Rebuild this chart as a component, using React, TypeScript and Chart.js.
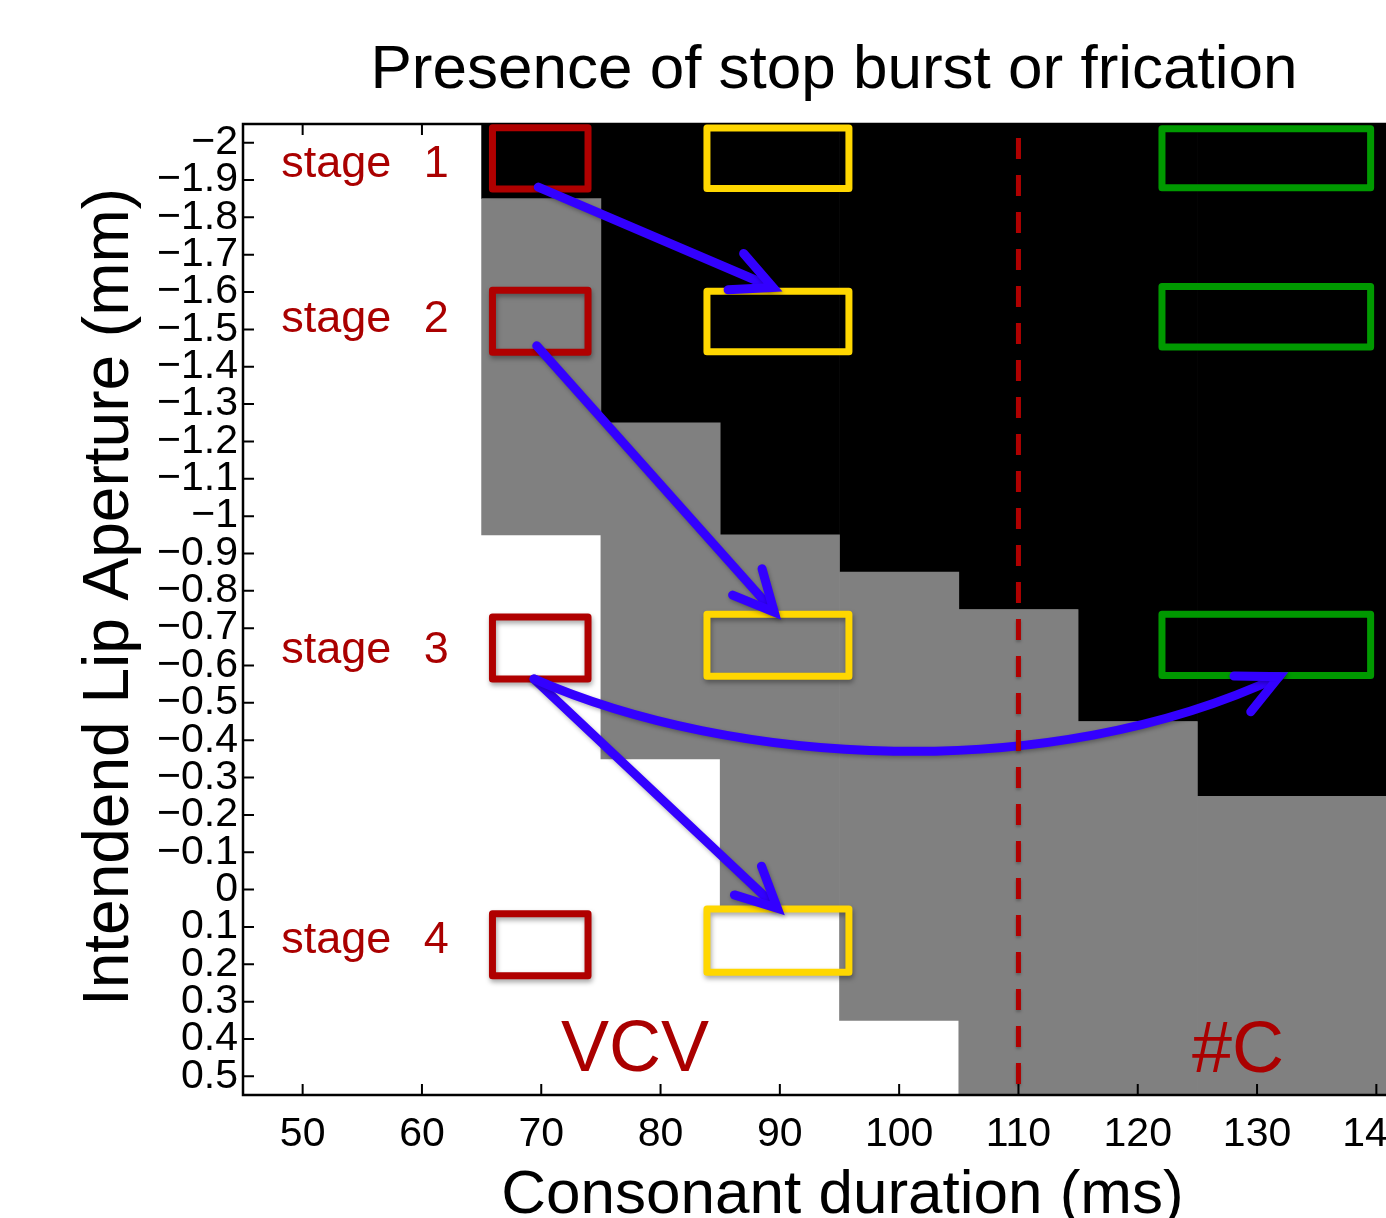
import React, { useEffect, useRef } from "react";
import { Chart, registerables } from "chart.js";

Chart.register(...registerables);

// ---------- data ----------
const xValues = [50, 60, 70, 80, 90, 100, 110, 120, 130, 140];
const yValues = [
  -2, -1.9, -1.8, -1.7, -1.6, -1.5, -1.4, -1.3, -1.2, -1.1, -1, -0.9, -0.8,
  -0.7, -0.6, -0.5, -0.4, -0.3, -0.2, -0.1, 0, 0.1, 0.2, 0.3, 0.4, 0.5,
];
const xTicks = [50, 60, 70, 80, 90, 100, 110, 120, 130, 140];
const yTicks = [
  -2, -1.9, -1.8, -1.7, -1.6, -1.5, -1.4, -1.3, -1.2, -1.1, -1, -0.9, -0.8,
  -0.7, -0.6, -0.5, -0.4, -0.3, -0.2, -0.1, 0, 0.1, 0.2, 0.3, 0.4, 0.5,
];
// 0 = absent (white), 1 = gray, 2 = black; one row per yValue, one column per xValue
const presence: number[][] = [
  [0, 0, 2, 2, 2, 2, 2, 2, 2, 2], // -2
  [0, 0, 2, 2, 2, 2, 2, 2, 2, 2], // -1.9
  [0, 0, 1, 2, 2, 2, 2, 2, 2, 2], // -1.8
  [0, 0, 1, 2, 2, 2, 2, 2, 2, 2], // -1.7
  [0, 0, 1, 2, 2, 2, 2, 2, 2, 2], // -1.6
  [0, 0, 1, 2, 2, 2, 2, 2, 2, 2], // -1.5
  [0, 0, 1, 2, 2, 2, 2, 2, 2, 2], // -1.4
  [0, 0, 1, 2, 2, 2, 2, 2, 2, 2], // -1.3
  [0, 0, 1, 1, 2, 2, 2, 2, 2, 2], // -1.2
  [0, 0, 1, 1, 2, 2, 2, 2, 2, 2], // -1.1
  [0, 0, 1, 1, 2, 2, 2, 2, 2, 2], // -1
  [0, 0, 0, 1, 1, 2, 2, 2, 2, 2], // -0.9
  [0, 0, 0, 1, 1, 1, 2, 2, 2, 2], // -0.8
  [0, 0, 0, 1, 1, 1, 1, 2, 2, 2], // -0.7
  [0, 0, 0, 1, 1, 1, 1, 2, 2, 2], // -0.6
  [0, 0, 0, 1, 1, 1, 1, 2, 2, 2], // -0.5
  [0, 0, 0, 1, 1, 1, 1, 1, 2, 2], // -0.4
  [0, 0, 0, 0, 1, 1, 1, 1, 2, 2], // -0.3
  [0, 0, 0, 0, 1, 1, 1, 1, 1, 1], // -0.2
  [0, 0, 0, 0, 1, 1, 1, 1, 1, 1], // -0.1
  [0, 0, 0, 0, 1, 1, 1, 1, 1, 1], // 0
  [0, 0, 0, 0, 0, 1, 1, 1, 1, 1], // 0.1
  [0, 0, 0, 0, 0, 1, 1, 1, 1, 1], // 0.2
  [0, 0, 0, 0, 0, 1, 1, 1, 1, 1], // 0.3
  [0, 0, 0, 0, 0, 0, 1, 1, 1, 1], // 0.4
  [0, 0, 0, 0, 0, 0, 1, 1, 1, 1], // 0.5
];

// ---------- annotations (data units) ----------
const stageLabels = ["stage 1", "stage 2", "stage 3", "stage 4"];
const stageLabelX = 48.2;
const stageLabelY = [-1.909, -1.494, -0.608, 0.171];
const redBoxX = [65.91, 73.92];
const redBoxY = [[-2.04, -1.876], [-1.605, -1.439], [-0.73, -0.564], [0.065, 0.231]];
const yellowBoxX = [83.89, 95.79];
const yellowBoxY = [[-2.039, -1.877], [-1.602, -1.44], [-0.737, -0.571], [0.052, 0.221]];
const greenBoxX = [122.03, 139.52];
const greenBoxY = [[-2.037, -1.879], [-1.615, -1.453], [-0.737, -0.573]];
const straightArrows = [
  { from: [69.75, -1.881], to: [89.43, -1.612] },
  { from: [69.62, -1.456], to: [89.53, -0.743] },
  { from: [69.39, -0.564], to: [89.79, 0.05] },
];
const curvedArrow = { from: [69.39, -0.564], c1: [86.0, -0.33], c2: [112.5, -0.28], to: [131.84, -0.57] };
const boundaryX = 110;
const regionLabels = [
  { text: "VCV", x: 77.86, y: 0.487 },
  { text: "#C", x: 128.4, y: 0.488 },
];
const titleText = "Presence of stop burst or frication";
const xTitle = "Consonant duration (ms)";
const yTitle = "Intendend Lip Aperture (mm)";

const FONT = '"Liberation Sans", Arial, Helvetica, sans-serif';
const RED = "#B00000";
const TEXT_RED = "#AA0000";
const BLUE = "#3300FF";
const YELLOW = "#FFD700";
const GREEN = "#009900";

function buildRuns(level: number) {
  const out: { x: number; y: number[] }[] = [];
  const half = Math.abs(yValues[1] - yValues[0]) / 2;
  xValues.forEach((x, c) => {
    let r = 0;
    while (r < yValues.length) {
      if (presence[r][c] === level) {
        let e = r;
        while (e + 1 < yValues.length && presence[e + 1][c] === level) e++;
        out.push({ x, y: [yValues[r] - half, yValues[e] + half] });
        r = e + 1;
      } else r++;
    }
  });
  return out;
}

function fmtY(v: number) {
  const n = Number(v);
  if (Math.abs(n) < 1e-9) return "0";
  const s = String(Math.round(Math.abs(n) * 10) / 10);
  return n < 0 ? "\u2212" + s : s;
}

const annotationPlugin = {
  id: "annotations",
  afterDatasetsDraw(chart: any) {
    const { ctx, chartArea: a, scales } = chart;
    const xs = scales.x;
    const ys = scales.y;
    const px = (v: number) => xs.getPixelForValue(v);
    const py = (v: number) => ys.getPixelForValue(v);

    // axes box
    ctx.save();
    ctx.strokeStyle = "#000";
    ctx.lineWidth = 2.5;
    ctx.beginPath();
    ctx.moveTo(a.left, a.top);
    ctx.lineTo(a.left, a.bottom);
    ctx.lineTo(a.right, a.bottom);
    ctx.lineTo(a.right, a.top);
    ctx.closePath();
    ctx.stroke();
    // inward ticks
    ctx.lineWidth = 2;
    ctx.beginPath();
    xTicks.forEach((t) => {
      const x = px(t);
      ctx.moveTo(x, a.bottom);
      ctx.lineTo(x, a.bottom - 11);
      ctx.moveTo(x, a.top);
      ctx.lineTo(x, a.top + 11);
    });
    yTicks.forEach((t) => {
      const y = py(t);
      ctx.moveTo(a.left, y);
      ctx.lineTo(a.left + 11, y);
      ctx.moveTo(a.right, y);
      ctx.lineTo(a.right - 11, y);
    });
    ctx.stroke();
    ctx.restore();

    // boxes
    const drawBoxes = (bx: number[], bys: number[][], color: string) => {
      bys.forEach((by) => {
        ctx.save();
        ctx.strokeStyle = color;
        ctx.lineWidth = 7;
        ctx.lineJoin = "round";
        ctx.shadowColor = "rgba(0,0,0,0.35)";
        ctx.shadowBlur = 5;
        ctx.shadowOffsetX = 1;
        ctx.shadowOffsetY = 3;
        const x0 = px(bx[0]);
        const x1 = px(bx[1]);
        const y0 = py(by[0]);
        const y1 = py(by[1]);
        ctx.strokeRect(x0, y0, x1 - x0, y1 - y0);
        ctx.restore();
      });
    };
    drawBoxes(redBoxX, redBoxY, RED);
    drawBoxes(yellowBoxX, yellowBoxY, YELLOW);
    drawBoxes(greenBoxX, greenBoxY, GREEN);

    // arrows
    const head = (tx: number, ty: number, ang: number) => {
      const len = 45;
      const sp = (26 * Math.PI) / 180;
      ctx.beginPath();
      ctx.moveTo(tx - len * Math.cos(ang - sp), ty - len * Math.sin(ang - sp));
      ctx.lineTo(tx, ty);
      ctx.lineTo(tx - len * Math.cos(ang + sp), ty - len * Math.sin(ang + sp));
      ctx.stroke();
    };
    ctx.save();
    ctx.strokeStyle = BLUE;
    ctx.lineWidth = 9;
    ctx.lineCap = "round";
    ctx.lineJoin = "miter";
    ctx.shadowColor = "rgba(0,0,0,0.3)";
    ctx.shadowBlur = 4;
    ctx.shadowOffsetX = 1;
    ctx.shadowOffsetY = 2;
    straightArrows.forEach((ar) => {
      const x0 = px(ar.from[0]);
      const y0 = py(ar.from[1]);
      const x1 = px(ar.to[0]);
      const y1 = py(ar.to[1]);
      const ang = Math.atan2(y1 - y0, x1 - x0);
      ctx.beginPath();
      ctx.moveTo(x0, y0);
      ctx.lineTo(x1 - 4 * Math.cos(ang), y1 - 4 * Math.sin(ang));
      ctx.stroke();
      head(x1, y1, ang);
    });
    {
      const c = curvedArrow;
      const p0 = [px(c.from[0]), py(c.from[1])];
      const p1 = [px(c.c1[0]), py(c.c1[1])];
      const p2 = [px(c.c2[0]), py(c.c2[1])];
      const p3 = [px(c.to[0]), py(c.to[1])];
      ctx.beginPath();
      ctx.moveTo(p0[0], p0[1]);
      ctx.bezierCurveTo(p1[0], p1[1], p2[0], p2[1], p3[0], p3[1]);
      ctx.stroke();
      head(p3[0], p3[1], Math.atan2(p3[1] - p2[1], p3[0] - p2[0]));
    }
    ctx.restore();

    // boundary dashed line
    ctx.save();
    ctx.strokeStyle = RED;
    ctx.lineWidth = 5;
    ctx.setLineDash([21, 16]);
    ctx.lineDashOffset = 23;
    ctx.shadowColor = "rgba(0,0,0,0.25)";
    ctx.shadowBlur = 3;
    ctx.shadowOffsetY = 2;
    ctx.beginPath();
    ctx.moveTo(px(boundaryX), a.top);
    ctx.lineTo(px(boundaryX), a.bottom);
    ctx.stroke();
    ctx.restore();

    // stage labels
    ctx.save();
    ctx.fillStyle = TEXT_RED;
    ctx.font = `45px ${FONT}`;
    ctx.textAlign = "left";
    ctx.textBaseline = "alphabetic";
    (ctx as any).wordSpacing = "20px";
    stageLabels.forEach((s, i) => {
      ctx.fillText(s, px(stageLabelX), py(stageLabelY[i]));
    });
    (ctx as any).wordSpacing = "0px";
    ctx.font = `72px ${FONT}`;
    ctx.textAlign = "center";
    regionLabels.forEach((r) => {
      ctx.fillText(r.text, px(r.x), py(r.y));
    });
    ctx.restore();
  },
  afterDraw(chart: any) {
    const { ctx, chartArea: a } = chart;
    const cx = (a.left + a.right) / 2;
    ctx.save();
    ctx.fillStyle = "#000";
    ctx.textBaseline = "alphabetic";
    ctx.textAlign = "center";
    ctx.font = `62px ${FONT}`;
    ctx.fillText(titleText, 834, 88);
    ctx.font = `62px ${FONT}`;
    ctx.fillText(xTitle, cx + 3, 1213);
    ctx.translate(128, 597);
    ctx.rotate(-Math.PI / 2);
    ctx.font = `64px ${FONT}`;
    ctx.fillText(yTitle, 0, 0);
    ctx.restore();
  },
};

export default function App() {
  const ref = useRef<HTMLCanvasElement | null>(null);
  useEffect(() => {
    if (!ref.current) return;
    const tickFont = { family: FONT, size: 41 };
    const chart = new Chart(ref.current, {
      type: "bar",
      data: {
        datasets: [
          {
            label: "partial",
            data: buildRuns(1) as any,
            backgroundColor: "#808080",
            borderWidth: 0,
            grouped: false,
            barPercentage: 1,
            categoryPercentage: 1,
          } as any,
          {
            label: "present",
            data: buildRuns(2) as any,
            backgroundColor: "#000000",
            borderWidth: 0,
            grouped: false,
            barPercentage: 1,
            categoryPercentage: 1,
          } as any,
        ],
      },
      options: {
        animation: false,
        responsive: false,
        events: [],
        layout: { padding: { left: 0, top: 124, right: 14, bottom: 0 } },
        plugins: {
          legend: { display: false },
          title: { display: false },
          tooltip: { enabled: false },
        },
        scales: {
          x: {
            type: "linear",
            min: 45,
            max: 145,
            offset: false,
            grid: { display: false, drawTicks: false },
            border: { display: false },
            ticks: {
              autoSkip: false,
              includeBounds: false,
              maxRotation: 0,
              padding: 15,
              color: "#000",
              font: tickFont,
              callback: (v: any) => String(v),
            },
            afterBuildTicks: (s: any) => {
              s.ticks = xTicks.map((v) => ({ value: v }));
            },
            afterFit: (s: any) => {
              s.height = 123;
            },
          },
          y: {
            type: "linear",
            reverse: true,
            min: -2.05,
            max: 0.55,
            grid: { display: false, drawTicks: false },
            border: { display: false },
            ticks: {
              autoSkip: false,
              includeBounds: false,
              padding: 5,
              color: "#000",
              font: tickFont,
              callback: (v: any) => fmtY(v),
            },
            afterBuildTicks: (s: any) => {
              s.ticks = yTicks.map((v) => ({ value: v }));
            },
            afterFit: (s: any) => {
              s.width = 243;
            },
          },
        },
      } as any,
      plugins: [annotationPlugin],
    });
    return () => chart.destroy();
  }, []);

  return (
    <div
      style={{
        position: "fixed",
        left: 0,
        top: 0,
        width: 1386,
        height: 1218,
        overflow: "hidden",
        background: "#fff",
      }}
    >
      <canvas ref={ref} width={1450} height={1218} style={{ display: "block" }} />
    </div>
  );
}
